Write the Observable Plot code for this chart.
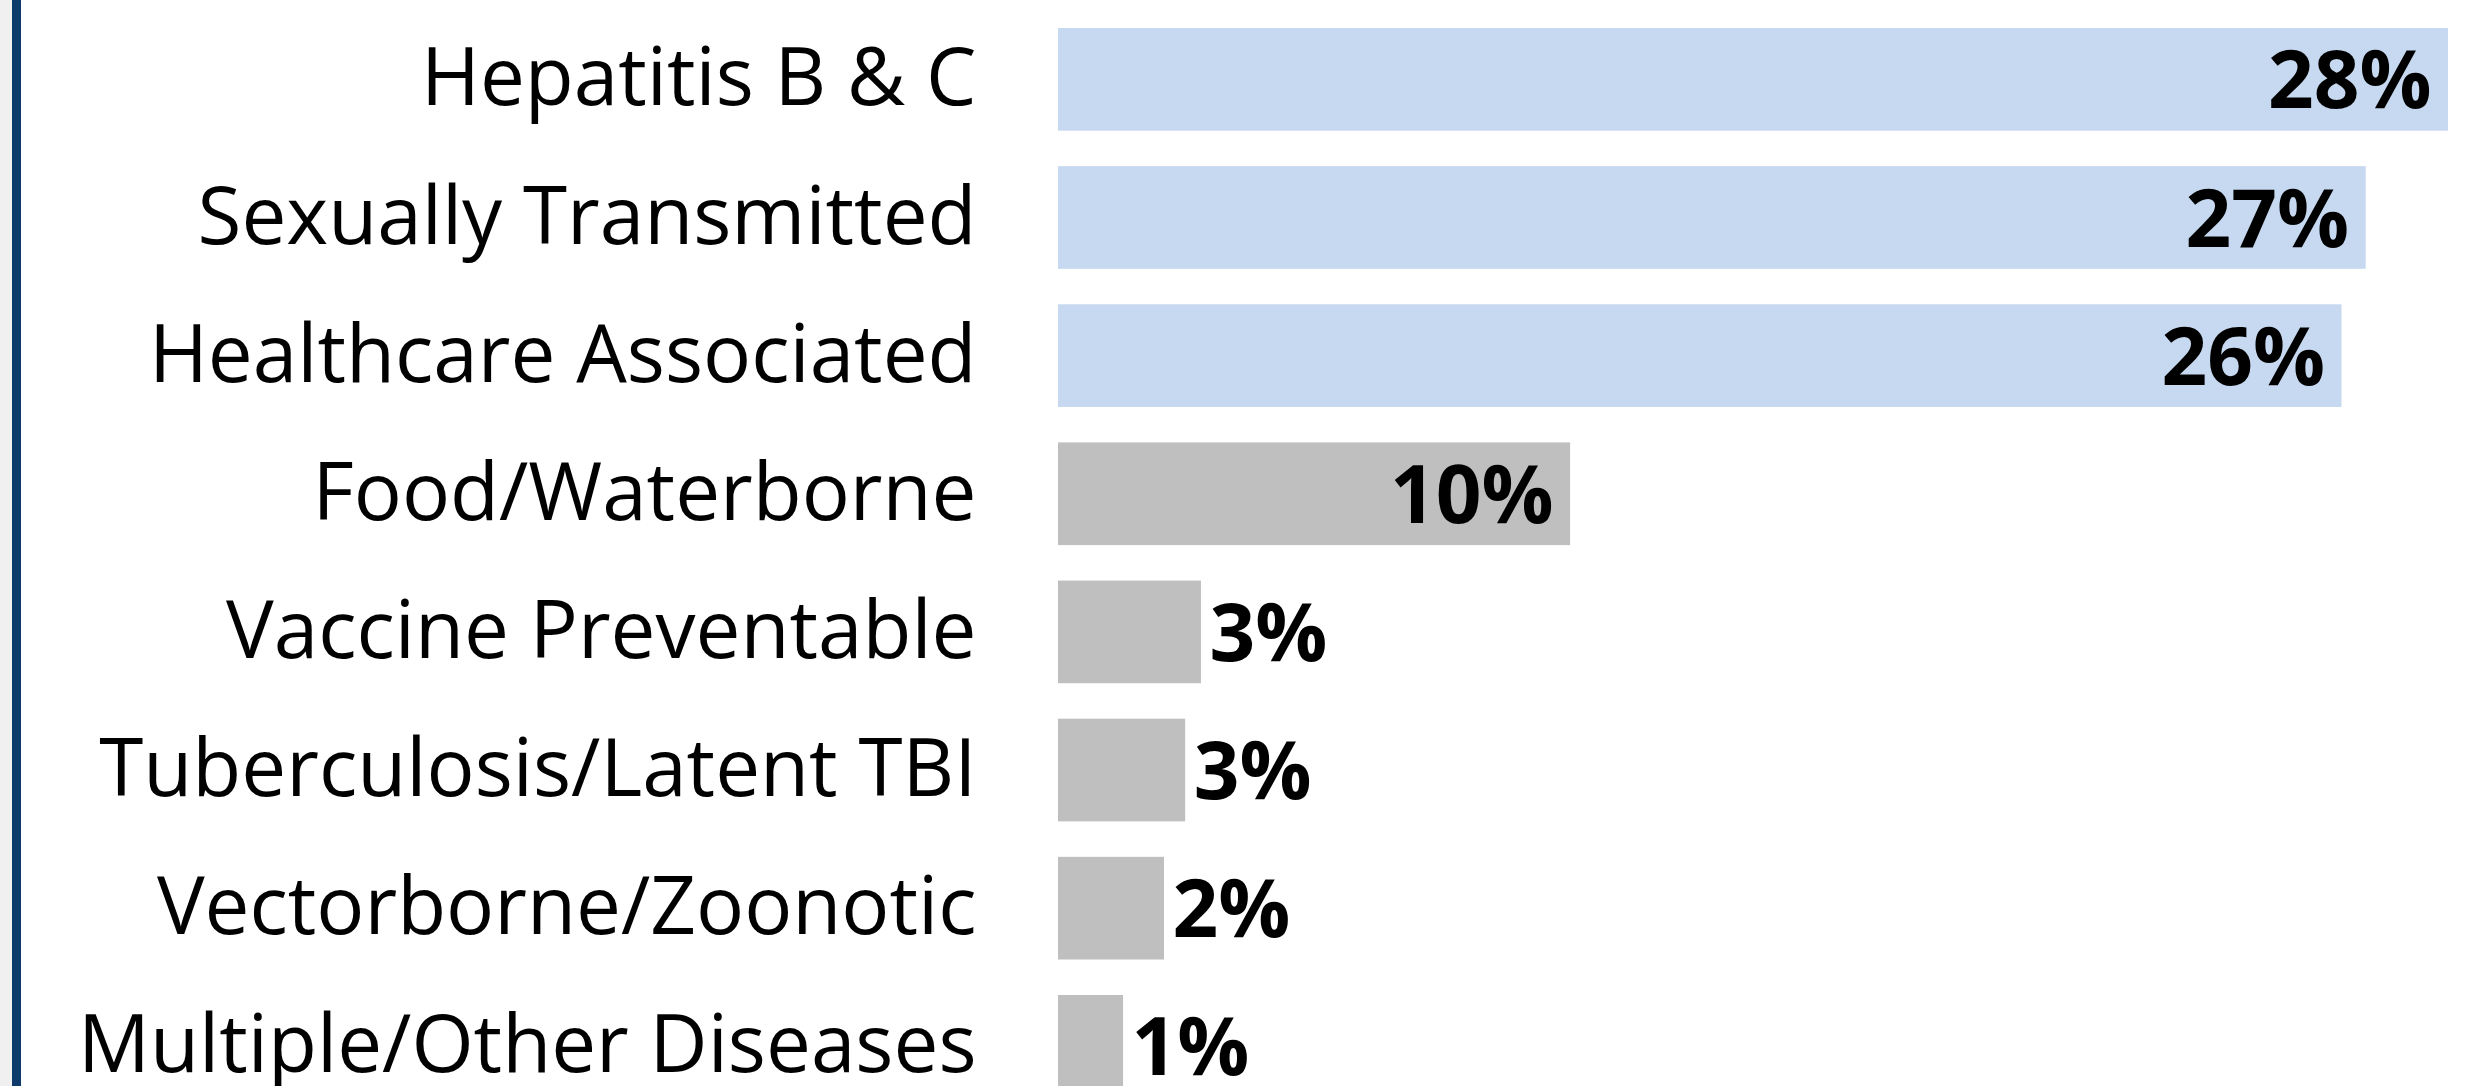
<!DOCTYPE html>
<html>
<head>
<meta charset="utf-8">
<script src="https://cdn.jsdelivr.net/npm/d3@7"></script>
<script src="https://cdn.jsdelivr.net/npm/@observablehq/plot@0.6"></script>
<style>
  html, body { margin: 0; padding: 0; background: #fff; overflow: hidden; }
  #wrap { position: relative; width: 2472px; height: 1086px; overflow: hidden; }
  #strip { position: absolute; left: 0; top: 0; width: 12px; height: 1086px; background: #f0f0f0; z-index: 2; }
  #edge { position: absolute; left: 12px; top: 0; width: 9px; height: 1086px; background: #0e3a6b; z-index: 2; }
</style>
</head>
<body>
<div id="wrap"><div id="strip"></div><div id="edge"></div></div>
<script>
const categories = [
  "Hepatitis B & C",
  "Sexually Transmitted",
  "Healthcare Associated",
  "Food/Waterborne",
  "Vaccine Preventable",
  "Tuberculosis/Latent TBI",
  "Vectorborne/Zoonotic",
  "Multiple/Other Diseases"
];
const values = [28.20, 26.53, 26.04, 10.39, 2.90, 2.58, 2.15, 1.32];
const valueLabels = ["28%", "27%", "26%", "10%", "3%", "3%", "2%", "1%"];
const groups = ["top", "top", "top", "other", "other", "other", "other", "other"];

const data = categories.map((c, i) => ({
  category: c, value: values[i], label: valueLabels[i], group: groups[i]
}));

const chart = Plot.plot({
  width: 2472,
  height: 1086,
  marginLeft: 1058,
  marginRight: 24,
  marginTop: 0,
  marginBottom: 0,
  style: { fontFamily: "'Open Sans', sans-serif", fontSize: "80px", color: "#000", background: "transparent" },
  x: { domain: [0, d3.max(values)], axis: null },
  y: { domain: categories, range: [-7.45, 1133.1], padding: 0.2566, round: false, label: null, axis: null },
  color: { domain: ["top", "other"], range: ["#c6d9f0", "#bfbfbf"] },
  marks: [
    Plot.barX(data, { x: "value", y: "category", fill: "group" }),
    Plot.text(data.filter(d => d.value > 5), {
      x: "value", y: "category", text: "label",
      textAnchor: "end", dx: -17, dy: 3, fontWeight: "bold", fontSize: 80, fill: "#000"
    }),
    Plot.text(data.filter(d => d.value <= 5), {
      x: "value", y: "category", text: "label",
      textAnchor: "start", dx: 8, dy: 3, fontWeight: "bold", fontSize: 80, fill: "#000"
    }),
    Plot.axisY({ tickSize: 0, tickPadding: 82, fontSize: 80, label: null, fill: "#000" })
  ]
});
document.getElementById("wrap").appendChild(chart);
</script>
</body>
</html>
